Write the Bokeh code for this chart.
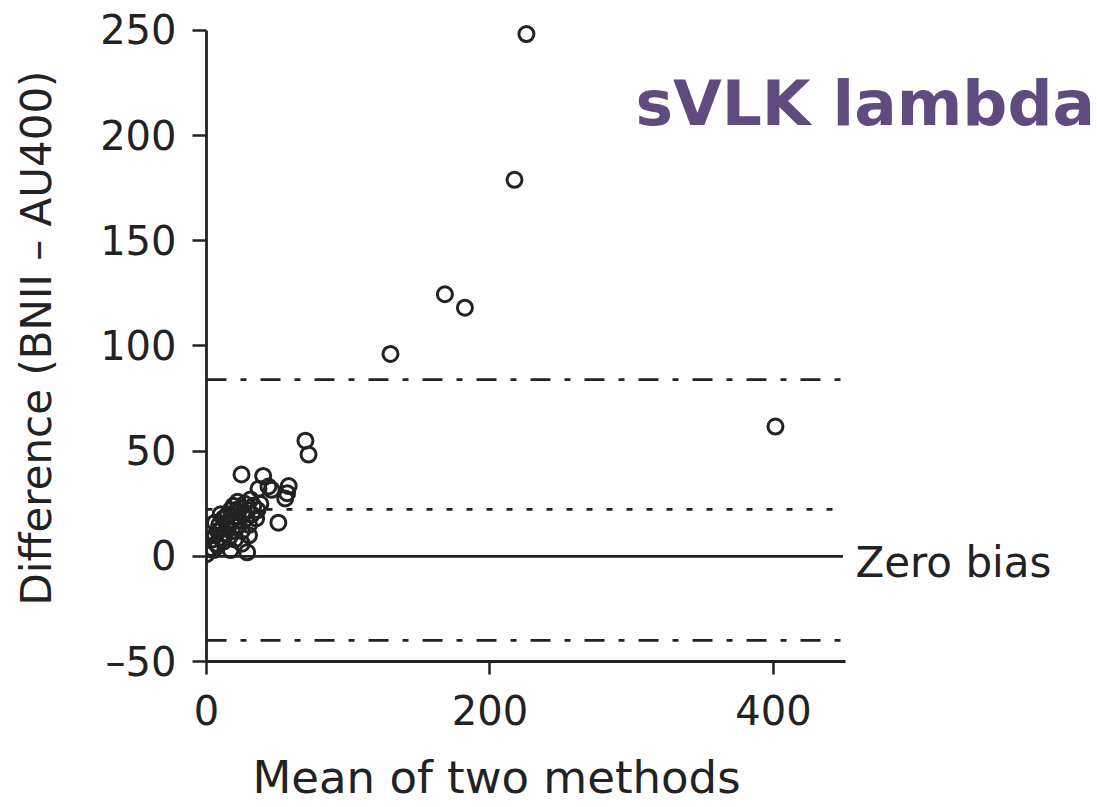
from bokeh.plotting import figure
from bokeh.models import Range1d, FixedTicker, Label, Title
from bokeh.embed import file_html
from bokeh.resources import INLINE

# ---- data ----
mean_outliers = [225.7, 217.3, 168.2, 182.3, 129.8, 401.4, 69.8, 72.0, 58.0, 56.9, 55.5,
                 50.7, 28.7, 0.0, 24.7, 40.0, 46.0, 36.7, 43.7]
diff_outliers = [248.3, 179.0, 124.6, 118.2, 96.2, 61.7, 55.0, 48.4, 33.4, 30.0, 27.5,
                 16.0, 1.9, 1.0, 38.9, 38.2, 31.6, 32.1, 33.2]
mean_cluster = [3, 4, 5, 6, 7, 8, 8, 9, 10, 11, 12, 12, 13, 14, 15, 15, 16, 17, 18, 18,
                19, 20, 21, 22, 22, 23, 24, 25, 26, 27, 28, 29, 30, 31, 32, 33, 35, 36,
                38, 10, 6, 20, 17, 25, 30]
diff_cluster = [4, 8, 3, 10, 6, 12, 5, 15, 9, 13, 7, 18, 11, 16, 20, 13, 9, 22, 17, 12,
                24, 19, 14, 21, 26, 17, 23, 12, 20, 25, 18, 22, 15, 27, 20, 24, 18, 22,
                25, 20, 16, 8, 3, 6, 10]
mean_vals = mean_outliers + mean_cluster
diff_vals = diff_outliers + diff_cluster

upper_loa = 84.0
mean_bias = 22.3
zero_bias = 0.0
lower_loa = -40.0
line_x = [0, 449]

x_ticks = [0, 200, 400]
y_ticks = [-50, 0, 50, 100, 150, 200, 250]

INK = "#222222"
FONT = "DejaVu Sans"

p = figure(width=1097, height=807,
           x_range=Range1d(0, 628.6), y_range=Range1d(-50, 257.6),
           output_backend="svg", toolbar_location=None,
           min_border_left=206, min_border_right=0,
           min_border_top=14, min_border_bottom=145)
p.xgrid.visible = False
p.ygrid.visible = False
p.outline_line_color = None
p.background_fill_color = "white"
p.border_fill_color = "white"

# reference lines
p.line(line_x, [upper_loa, upper_loa], line_color=INK, line_width=2.8, line_dash="20 14 6 14")
p.line(line_x, [mean_bias, mean_bias], line_color=INK, line_width=2.8, line_dash="6 14")
p.line(line_x, [zero_bias, zero_bias], line_color=INK, line_width=2.8)
p.line(line_x, [lower_loa, lower_loa], line_color=INK, line_width=2.8, line_dash="20 14 6 14")

# points
p.scatter(mean_vals, diff_vals, marker="circle", size=15, fill_color=None,
          line_color=INK, line_width=3)

# axes
xa = p.xaxis[0]
xa.ticker = FixedTicker(ticks=x_ticks)
xa.bounds = (0, 451)
xa.axis_line_width = 2.8
xa.axis_line_color = INK
xa.major_tick_line_width = 2.5
xa.major_tick_line_color = INK
xa.major_tick_out = 13
xa.major_tick_in = 0
xa.minor_tick_line_color = None
xa.major_label_text_font = FONT
xa.major_label_text_font_size = "40px"
xa.major_label_text_color = INK
xa.major_label_standoff = 20

ya = p.yaxis[0]
ya.ticker = FixedTicker(ticks=y_ticks)
ya.bounds = (-50, 250)
ya.axis_line_width = 2.8
ya.axis_line_color = INK
ya.major_tick_line_width = 2.5
ya.major_tick_line_color = INK
ya.major_tick_out = 14
ya.major_tick_in = 0
ya.minor_tick_line_color = None
ya.major_label_text_font = FONT
ya.major_label_text_font_size = "40px"
ya.major_label_text_color = INK
ya.major_label_standoff = 16
ya.major_label_overrides = {-50: "\u201350"}
ya.axis_label = "Difference (BNII \u2013 AU400)"
ya.axis_label_text_font = FONT
ya.axis_label_text_font_size = "42px"
ya.axis_label_text_font_style = "normal"
ya.axis_label_text_color = INK
ya.axis_label_standoff = 36

# small empty spacer between the axis and its title
p.add_layout(Title(text=" ", text_font_size="1px", standoff=14), "below")
# x-axis title, placed below the axis and aligned like the reference
p.add_layout(Title(text="Mean of two methods", align="left", offset=46,
                   text_font=FONT, text_font_size="45px", text_font_style="normal",
                   text_color=INK, standoff=8), "below")

# annotations
p.add_layout(Label(x=457.8, y=-2.85, text="Zero bias", text_font=FONT,
                   text_font_size="42px", text_color=INK, text_baseline="alphabetic"))
p.add_layout(Label(x=302.6, y=215.5, text="sVLK lambda", text_font=FONT,
                   text_font_size="63px", text_font_style="bold", text_color="#5f4b7e",
                   text_baseline="alphabetic"))

open("out.html", "w").write(file_html(p, INLINE))
